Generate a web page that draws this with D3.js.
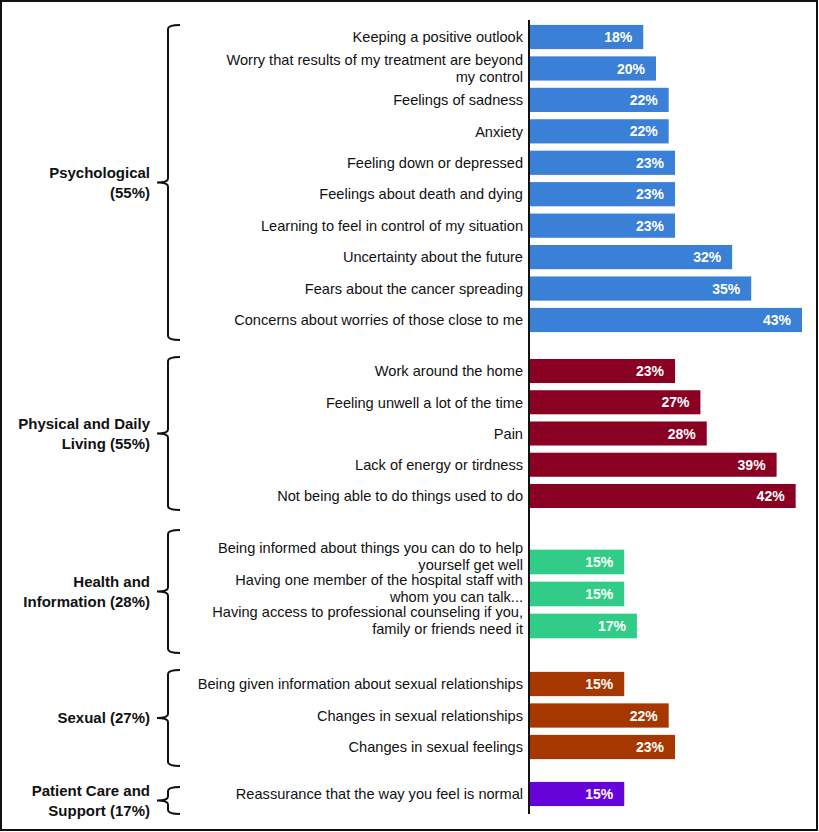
<!DOCTYPE html>
<html>
<head>
<meta charset="utf-8">
<script src="https://cdn.jsdelivr.net/npm/d3@7"></script>
<style>
  html, body { margin: 0; padding: 0; background: #fff; }
  svg { display: block; }
  text { font-family: "Liberation Sans", Arial, sans-serif; }
</style>
</head>
<body>
<div id="chart"></div>
<script>
// ---------- DATA ----------
const groupNames = [
  ["Psychological", "(55%)"],
  ["Physical and Daily", "Living (55%)"],
  ["Health and", "Information (28%)"],
  ["Sexual (27%)"],
  ["Patient Care and", "Support (17%)"]
];

const psychItems = [
  ["Keeping a positive outlook"],
  ["Worry that results of my treatment are beyond", "my control"],
  ["Feelings of sadness"],
  ["Anxiety"],
  ["Feeling down or depressed"],
  ["Feelings about death and dying"],
  ["Learning to feel in control of my situation"],
  ["Uncertainty about the future"],
  ["Fears about the cancer spreading"],
  ["Concerns about worries of those close to me"]
];
const psychValues = [18, 20, 22, 22, 23, 23, 23, 32, 35, 43];

const physicalItems = [
  ["Work around the home"],
  ["Feeling unwell a lot of the time"],
  ["Pain"],
  ["Lack of energy or tirdness"],
  ["Not being able to do things used to do"]
];
const physicalValues = [23, 27, 28, 39, 42];

const healthItems = [
  ["Being informed about things you can do to help", "yourself get well"],
  ["Having one member of the hospital staff with", "whom you can talk..."],
  ["Having access to professional counseling if you,", "family or friends need it"]
];
const healthValues = [15, 15, 17];

const sexualItems = [
  ["Being given information about sexual relationships"],
  ["Changes in sexual relationships"],
  ["Changes in sexual feelings"]
];
const sexualValues = [15, 22, 23];

const careItems = [
  ["Reassurance that the way you feel is normal"]
];
const careValues = [15];

const groupColors = ["#3a80d6", "#8a0022", "#31cd88", "#a63700", "#6603d8"];

// ---------- LAYOUT ----------
const W = 819, H = 832;
const axisX = 529;
const bandRanges = [[21.3, 335.7], [355.4, 511.6], [546, 642], [668.25, 762.75], [778.3, 809.7]];
const braceRanges = [[25, 340], [357, 510], [530, 653], [670, 766], [787, 814]];
const labelShift = [0, 0, -6, 0, 0];

const groups = [
  {items: psychItems, values: psychValues},
  {items: physicalItems, values: physicalValues},
  {items: healthItems, values: healthValues},
  {items: sexualItems, values: sexualValues},
  {items: careItems, values: careValues}
];

const x = d3.scaleLinear().domain([0, 43]).range([axisX, 802]);

const svg = d3.select("#chart").append("svg")
  .attr("width", W).attr("height", H);

svg.append("rect").attr("x", 1).attr("y", 1)
  .attr("width", 816).attr("height", 829)
  .attr("fill", "#fff").attr("stroke", "#111").attr("stroke-width", 2);

groups.forEach((g, gi) => {
  const rows = g.items.map((lines, i) => ({lines, value: g.values[i], key: gi + "-" + i}));
  const y = d3.scaleBand().domain(rows.map(r => r.key))
    .range(bandRanges[gi]).paddingInner(0.23).paddingOuter(0.115);

  const gg = svg.append("g");
  // bars
  gg.selectAll("rect.bar").data(rows).join("rect")
    .attr("class", "bar")
    .attr("x", x(0))
    .attr("y", d => y(d.key))
    .attr("width", d => x(d.value) - x(0))
    .attr("height", y.bandwidth())
    .attr("fill", groupColors[gi]);

  // value labels
  gg.selectAll("text.val").data(rows).join("text")
    .attr("class", "val")
    .attr("x", d => x(d.value) - 11)
    .attr("y", d => y(d.key) + y.bandwidth() / 2)
    .attr("dy", "0.36em")
    .attr("text-anchor", "end")
    .attr("fill", "#fff")
    .attr("font-weight", "bold")
    .attr("font-size", "14px")
    .text(d => d.value + "%");

  // item labels
  const lbl = gg.selectAll("text.lbl").data(rows).join("text")
    .attr("class", "lbl")
    .attr("text-anchor", "end")
    .attr("font-size", "14.6px")
    .attr("fill", "#111");
  lbl.each(function(d) {
    const cy = y(d.key) + y.bandwidth() / 2 + labelShift[gi];
    const n = d.lines.length;
    d3.select(this).selectAll("tspan").data(d.lines).join("tspan")
      .attr("x", axisX - 6)
      .attr("y", (l, i) => cy + (i - (n - 1) / 2) * 17)
      .attr("dy", "0.36em")
      .text(l => l);
  });

  // brace
  const [t, b] = braceRanges[gi];
  const m = (t + b) / 2;
  const vx = 168, hx = 180, tx = 157, r = 4;
  const p = d3.path();
  p.moveTo(hx, t);
  p.quadraticCurveTo(vx, t, vx, t + r);
  p.lineTo(vx, m - r);
  p.quadraticCurveTo(vx, m, tx, m);
  p.quadraticCurveTo(vx, m, vx, m + r);
  p.lineTo(vx, b - r);
  p.quadraticCurveTo(vx, b, hx, b);
  svg.append("path").attr("d", p.toString())
    .attr("fill", "none").attr("stroke", "#111").attr("stroke-width", 2);

  // group label
  const names = groupNames[gi];
  const gl = svg.append("text")
    .attr("text-anchor", "end")
    .attr("font-weight", "bold")
    .attr("font-size", "15px")
    .attr("fill", "#111");
  names.forEach((s, i) => {
    gl.append("tspan")
      .attr("x", 150)
      .attr("y", m + (i - (names.length - 1) / 2) * 20)
      .attr("dy", "0.36em")
      .text(s);
  });
});

// axis line
svg.append("line")
  .attr("x1", axisX).attr("x2", axisX)
  .attr("y1", 20).attr("y2", 814)
  .attr("stroke", "#111").attr("stroke-width", 2);
</script>
</body>
</html>
